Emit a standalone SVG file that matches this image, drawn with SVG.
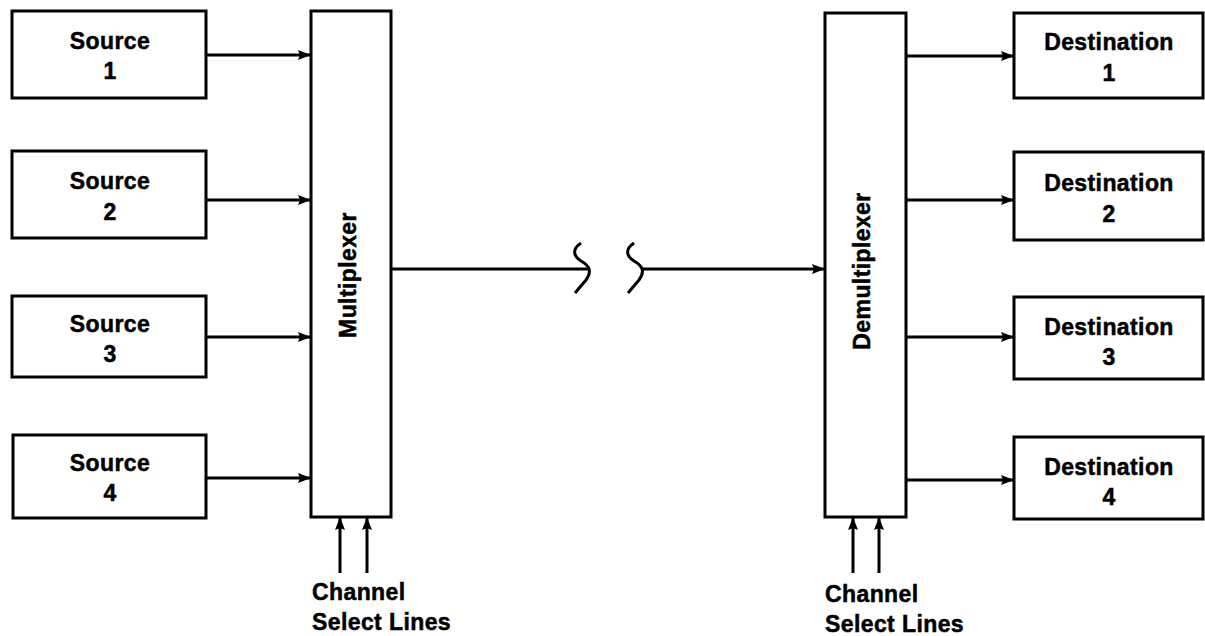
<svg xmlns="http://www.w3.org/2000/svg" width="1205" height="636" viewBox="0 0 1205 636">
<style>
.box{fill:#fff;stroke:#000;stroke-width:3}
.t{font-family:"Liberation Sans",Arial,sans-serif;font-weight:bold;font-size:23px;letter-spacing:0.4px;fill:#000;stroke:#000;stroke-width:0.5}
.c{text-anchor:middle}
.ln{fill:none;stroke:#000;stroke-width:3}
</style>
<defs>
<marker id="ah" viewBox="0 0 13 10" refX="13" refY="5" markerWidth="13" markerHeight="10" markerUnits="userSpaceOnUse" orient="auto">
<path d="M0,0 L13,5 L0,10 L2,5 Z" fill="#000"/>
</marker>
</defs>
<rect width="1205" height="636" fill="#fff"/>
<g id="source1"><rect class="box" x="12" y="11" width="194" height="87"/><text class="t c" x="110" y="49">Source</text><text class="t c" x="110" y="79">1</text></g>
<g id="source2"><rect class="box" x="12" y="151" width="194" height="87"/><text class="t c" x="110" y="189">Source</text><text class="t c" x="110" y="220">2</text></g>
<g id="source3"><rect class="box" x="12" y="296" width="194" height="81"/><text class="t c" x="110" y="332">Source</text><text class="t c" x="110" y="362">3</text></g>
<g id="source4"><rect class="box" x="13" y="435" width="193" height="83"/><text class="t c" x="110" y="471">Source</text><text class="t c" x="110" y="501">4</text></g>
<g id="multiplexer"><rect class="box" x="311" y="11" width="80" height="506"/><text class="t c" transform="translate(356,275) rotate(-90)">Multiplexer</text></g>
<g id="demultiplexer"><rect class="box" x="825" y="13" width="81" height="504"/><text class="t c" transform="translate(870,271) rotate(-90)">Demultiplexer</text></g>
<g id="dest1"><rect class="box" x="1014" y="13" width="189" height="85"/><text class="t c" x="1109" y="50">Destination</text><text class="t c" x="1109" y="81">1</text></g>
<g id="dest2"><rect class="box" x="1014" y="152" width="189" height="88"/><text class="t c" x="1109" y="191">Destination</text><text class="t c" x="1109" y="222">2</text></g>
<g id="dest3"><rect class="box" x="1014" y="297" width="189" height="82"/><text class="t c" x="1109" y="335">Destination</text><text class="t c" x="1109" y="365">3</text></g>
<g id="dest4"><rect class="box" x="1014" y="437" width="189" height="82"/><text class="t c" x="1109" y="475">Destination</text><text class="t c" x="1109" y="505">4</text></g>
<g id="mux-select-label"><text class="t" x="312" y="600">Channel</text><text class="t" x="312" y="630">Select Lines</text></g>
<g id="demux-select-label"><text class="t" x="825" y="602">Channel</text><text class="t" x="825" y="632">Select Lines</text></g>
<g id="connectors">
<line class="ln" x1="206" y1="55" x2="311" y2="55" marker-end="url(#ah)"/>
<line class="ln" x1="206" y1="200" x2="311" y2="200" marker-end="url(#ah)"/>
<line class="ln" x1="206" y1="337" x2="311" y2="337" marker-end="url(#ah)"/>
<line class="ln" x1="206" y1="478" x2="311" y2="478" marker-end="url(#ah)"/>
<line class="ln" x1="906" y1="56" x2="1014" y2="56" marker-end="url(#ah)"/>
<line class="ln" x1="906" y1="200" x2="1014" y2="200" marker-end="url(#ah)"/>
<line class="ln" x1="906" y1="337" x2="1014" y2="337" marker-end="url(#ah)"/>
<line class="ln" x1="906" y1="480" x2="1014" y2="480" marker-end="url(#ah)"/>
<line class="ln" x1="391" y1="269" x2="589" y2="269"/>
<path class="ln" d="M581,243 C572,249 573,256 581,261 C590,266 592,272 586,280 L575,293"/>
<path class="ln" d="M634,243 C625,249 626,256 634,261 C643,266 645,272 639,280 L628,293"/>
<line class="ln" x1="642" y1="269" x2="825" y2="269" marker-end="url(#ah)"/>
<line class="ln" x1="340" y1="573" x2="340" y2="517" marker-end="url(#ah)"/>
<line class="ln" x1="367" y1="573" x2="367" y2="517" marker-end="url(#ah)"/>
<line class="ln" x1="853" y1="573" x2="853" y2="517" marker-end="url(#ah)"/>
<line class="ln" x1="879" y1="573" x2="879" y2="517" marker-end="url(#ah)"/>
</g>
</svg>
